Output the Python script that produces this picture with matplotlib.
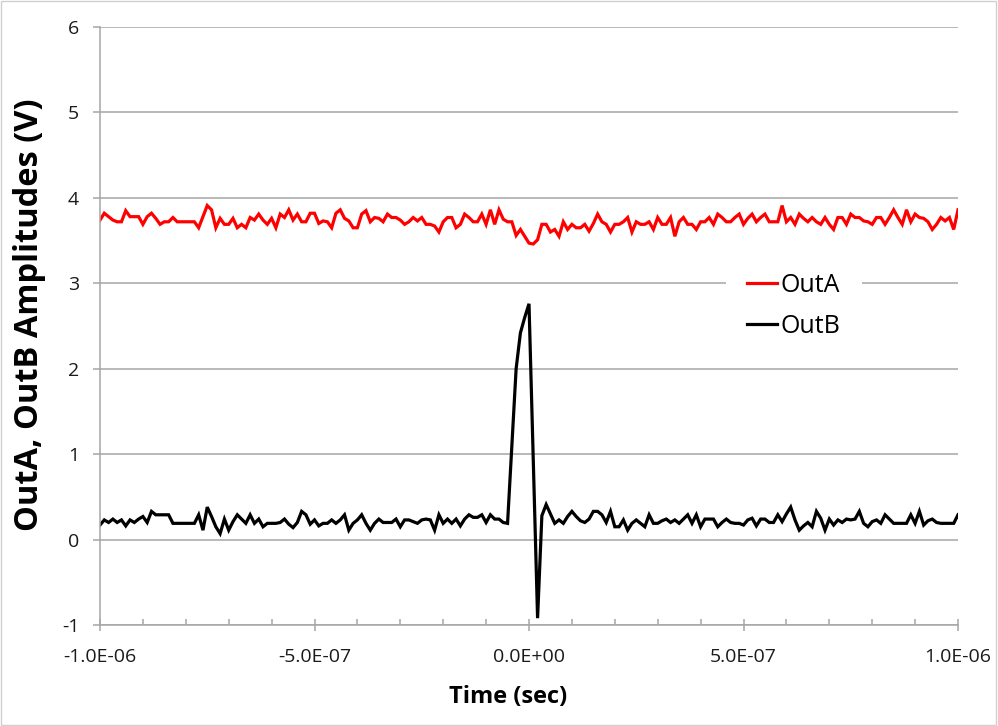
import numpy as np
import matplotlib
matplotlib.use('Agg')
import matplotlib.pyplot as plt
from matplotlib.ticker import MultipleLocator, FuncFormatter
from matplotlib.patches import Rectangle

# Datos: 201 muestras, una cada 10 ns
tiempo = np.linspace(-1e-6, 1e-6, 201)

out_a = [
    3.74, 3.82, 3.78, 3.74, 3.72, 3.72, 3.85, 3.78, 3.78, 3.78,
    3.69, 3.78, 3.82, 3.76, 3.69, 3.72, 3.72, 3.77, 3.72, 3.72,
    3.72, 3.72, 3.72, 3.65, 3.78, 3.91, 3.86, 3.65, 3.76, 3.69,
    3.69, 3.76, 3.65, 3.69, 3.65, 3.77, 3.74, 3.81, 3.74, 3.69,
    3.76, 3.65, 3.81, 3.77, 3.86, 3.74, 3.81, 3.72, 3.72, 3.82,
    3.82, 3.70, 3.73, 3.72, 3.65, 3.82, 3.86, 3.76, 3.73, 3.65,
    3.65, 3.81, 3.85, 3.72, 3.77, 3.76, 3.72, 3.81, 3.77, 3.77,
    3.74, 3.69, 3.72, 3.77, 3.73, 3.77, 3.69, 3.69, 3.67, 3.60,
    3.72, 3.77, 3.77, 3.65, 3.69, 3.81, 3.77, 3.72, 3.72, 3.81,
    3.69, 3.86, 3.69, 3.86, 3.75, 3.72, 3.72, 3.56, 3.63, 3.55,
    3.47,
    3.46, 3.51, 3.69, 3.69, 3.60, 3.63, 3.55, 3.72, 3.63, 3.69,
    3.65, 3.65, 3.69, 3.61, 3.70, 3.81, 3.72, 3.69, 3.60, 3.69,
    3.69, 3.72, 3.77, 3.60, 3.72, 3.69, 3.69, 3.72, 3.63, 3.77,
    3.69, 3.69, 3.77, 3.55, 3.72, 3.77, 3.69, 3.69, 3.63, 3.72,
    3.72, 3.77, 3.69, 3.81, 3.77, 3.72, 3.72, 3.77, 3.81, 3.69,
    3.76, 3.81, 3.72, 3.77, 3.81, 3.72, 3.72, 3.72, 3.91, 3.72,
    3.77, 3.69, 3.81, 3.76, 3.72, 3.77, 3.72, 3.69, 3.77, 3.69,
    3.63, 3.77, 3.77, 3.69, 3.81, 3.77, 3.77, 3.73, 3.72, 3.69,
    3.77, 3.77, 3.69, 3.77, 3.86, 3.77, 3.69, 3.86, 3.72, 3.81,
    3.77, 3.76, 3.72, 3.63, 3.69, 3.77, 3.73, 3.77, 3.63, 3.86,
]

out_b = [
    0.17, 0.23, 0.20, 0.24, 0.20, 0.23, 0.16, 0.23, 0.20, 0.24,
    0.27, 0.20, 0.33, 0.29, 0.29, 0.29, 0.29, 0.19, 0.19, 0.19,
    0.19, 0.19, 0.19, 0.29, 0.11, 0.38, 0.27, 0.15, 0.07, 0.24,
    0.11, 0.21, 0.29, 0.24, 0.19, 0.29, 0.19, 0.24, 0.15, 0.19,
    0.19, 0.19, 0.20, 0.24, 0.18, 0.14, 0.20, 0.33, 0.29, 0.18,
    0.23,
    0.16, 0.19, 0.19, 0.23, 0.19, 0.23, 0.29, 0.11, 0.19, 0.23,
    0.29, 0.19, 0.11, 0.19, 0.24, 0.20, 0.20, 0.20, 0.24, 0.15,
    0.23, 0.23, 0.21, 0.19, 0.23, 0.24, 0.23, 0.11, 0.29, 0.19,
    0.24, 0.19, 0.24, 0.16, 0.24, 0.29, 0.26, 0.26, 0.29, 0.20,
    0.29, 0.24, 0.24, 0.20, 0.19,
    1.10, 2.00, 2.42, 2.60, 2.76, 0.92, -0.92, 0.28, 0.41, 0.30,
    0.19, 0.23, 0.19, 0.27, 0.33,
    0.27, 0.22, 0.20, 0.24, 0.33, 0.33, 0.29, 0.20, 0.33, 0.15,
    0.15, 0.23, 0.11, 0.19, 0.23, 0.19, 0.15, 0.29, 0.19, 0.19,
    0.22, 0.24, 0.20, 0.23, 0.19, 0.24, 0.29, 0.19, 0.29, 0.15,
    0.24, 0.24, 0.24, 0.15, 0.20, 0.24, 0.20, 0.19, 0.19, 0.17,
    0.23, 0.25, 0.16, 0.24, 0.24, 0.20, 0.20, 0.29, 0.21, 0.30,
    0.38, 0.23, 0.11, 0.16, 0.20, 0.15, 0.33, 0.25, 0.11, 0.24,
    0.17, 0.23, 0.20, 0.24, 0.23, 0.24, 0.33, 0.19, 0.15, 0.21,
    0.23, 0.19, 0.29, 0.24, 0.19, 0.19, 0.19, 0.19, 0.29, 0.19,
    0.33, 0.17, 0.22, 0.24, 0.20, 0.19, 0.19, 0.19, 0.19, 0.29,
]

series_names = ['OutA', 'OutB']
series_colors = ['#ff0000', '#000000']

plt.rcParams['font.family'] = ['Open Sans', 'DejaVu Sans']
plt.rcParams['axes.unicode_minus'] = False

fig = plt.figure(figsize=(9.98, 7.26), dpi=100)
ax = fig.add_axes([100 / 998, 1 - 625 / 726, 858 / 998, 598 / 726])

for vals, name, col in zip([out_a, out_b], series_names, series_colors):
    ax.plot(tiempo, vals, color=col, lw=2.3, label=name, solid_joinstyle='miter')

ax.set_xlim(-1e-6, 1e-6)
ax.set_ylim(-1, 6)

grid_col = '#a6a6a6'
ax.yaxis.set_major_locator(MultipleLocator(1))
ax.xaxis.set_major_locator(MultipleLocator(5e-7))
ax.xaxis.set_minor_locator(MultipleLocator(1e-7))
ax.xaxis.set_major_formatter(FuncFormatter(lambda v, p: '{:.1E}'.format(0 if abs(v) < 1e-12 else v)))
ax.grid(axis='y', color=grid_col, lw=1.1)
ax.set_axisbelow(True)

for s in ['top', 'right']:
    ax.spines[s].set_visible(False)
for s in ['left', 'bottom']:
    ax.spines[s].set_color(grid_col)
    ax.spines[s].set_linewidth(1.1)

ax.tick_params(axis='y', which='major', direction='out', length=5, width=1.1,
               color=grid_col, pad=10, labelsize=14, labelcolor='#1a1a1a')
ax.tick_params(axis='x', which='major', direction='inout', length=9, width=1.1,
               color=grid_col, pad=12, labelsize=14, labelcolor='#1a1a1a')
ax.tick_params(axis='x', which='minor', direction='in', length=4.5, width=1.1,
               color=grid_col)

leg = ax.legend(loc='upper left', bbox_to_anchor=(726 / 998, 1 - 252 / 726),
                bbox_transform=fig.transFigure, fontsize=18, frameon=True,
                fancybox=False, framealpha=1, edgecolor='none', facecolor='white',
                handlelength=1.2, handletextpad=0.15, labelspacing=0.62,
                borderpad=0.85, borderaxespad=0)
for h in leg.get_lines():
    h.set_linewidth(2.3)

fig.text(30 / 998, 1 - 315 / 726, 'OutA, OutB Amplitudes (V)', rotation=90,
         ha='center', va='center', fontsize=23.5, fontweight='bold')
fig.text(508 / 998, 1 - 697 / 726, 'Time (sec)', ha='center', va='center',
         fontsize=17, fontweight='bold')

# marco exterior del grafico
fig.patches.append(Rectangle((0.001, 0.001), 0.997, 0.997, transform=fig.transFigure,
                             fill=False, edgecolor='#d0d0d0', lw=1))

plt.savefig('out.png', dpi=100)
